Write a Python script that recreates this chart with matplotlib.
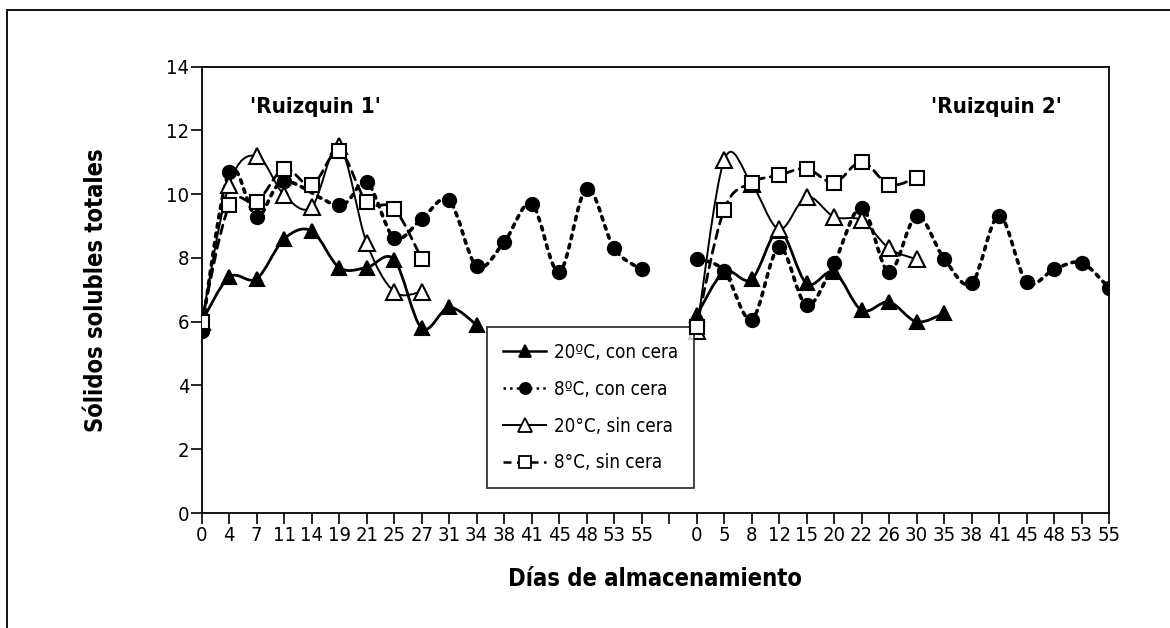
import matplotlib
matplotlib.use("Agg")
import matplotlib.pyplot as plt
from matplotlib.path import Path
from matplotlib.patches import PathPatch, Rectangle
from matplotlib.lines import Line2D
from matplotlib import font_manager

# ---------------- data ----------------
days_r1 = [0, 4, 7, 11, 14, 19, 21, 25, 27, 31, 34, 38, 41, 45, 48, 53, 55]
days_r2 = [0, 5, 8, 12, 15, 20, 22, 26, 30, 35, 38, 41, 45, 48, 53, 55]

# 'Ruizquin 1'
c20_r1_days = [0, 4, 7, 11, 14, 19, 21, 25, 27, 31, 34]
c20_r1_vals = [6.0, 7.4, 7.35, 8.6, 8.85, 7.7, 7.7, 7.95, 5.8, 6.45, 5.9]
c8_r1_days = [0, 4, 7, 11, 19, 21, 25, 27, 31, 34, 38, 41, 45, 48, 53, 55]
c8_r1_vals = [5.7, 10.7, 9.3, 10.4, 9.65, 10.37, 8.63, 9.22, 9.81, 7.74, 8.5, 9.7, 7.56, 10.17, 8.3, 7.64]
s20_r1_days = [0, 4, 7, 11, 14, 19, 21, 25, 27]
s20_r1_vals = [6.0, 10.3, 11.2, 9.97, 9.6, 11.5, 8.47, 6.94, 6.94]
s8_r1_days = [0, 4, 7, 11, 14, 19, 21, 25, 27]
s8_r1_vals = [6.0, 9.65, 9.76, 10.8, 10.28, 11.35, 9.76, 9.55, 7.98]

# 'Ruizquin 2'
c20_r2_days = [0, 5, 8, 12, 15, 20, 22, 26, 30, 35]
c20_r2_vals = [6.2, 7.56, 7.33, 8.85, 7.2, 7.56, 6.36, 6.62, 6.0, 6.26]
c8_r2_days = [0, 5, 8, 12, 15, 20, 22, 26, 30, 35, 38, 41, 45, 48, 53, 55]
c8_r2_vals = [7.98, 7.6, 6.07, 8.33, 6.52, 7.85, 9.58, 7.56, 9.32, 7.98, 7.2, 9.32, 7.25, 7.64, 7.85, 7.06]
s20_r2_days = [0, 5, 8, 12, 15, 20, 22, 26, 30]
s20_r2_vals = [5.7, 11.07, 10.33, 8.9, 9.92, 9.29, 9.18, 8.3, 7.96]
s8_r2_days = [0, 5, 8, 12, 15, 20, 22, 26, 30]
s8_r2_vals = [5.85, 9.52, 10.36, 10.6, 10.8, 10.36, 11.02, 10.3, 10.51]

series_labels = ["20ºC, con cera", "8ºC, con cera", "20°C, sin cera", "8°C, sin cera"]
group_titles = ["'Ruizquin 1'", "'Ruizquin 2'"]
xlabel = "Días de almacenamiento"
ylabel = "Sólidos solubles totales"

# ---------------- fonts ----------------
avail = {f.name for f in font_manager.fontManager.ttflist}
if "Liberation Sans Narrow" in avail:
    plt.rcParams["font.family"] = ["Liberation Sans Narrow", "DejaVu Sans"]
else:
    plt.rcParams["font.family"] = ["DejaVu Sans"]
    plt.rcParams["font.stretch"] = "condensed"

# ---------------- positions ----------------
gap = 2
pos_r1 = {d: i for i, d in enumerate(days_r1)}
pos_r2 = {d: i + len(days_r1) + gap - 1 for i, d in enumerate(days_r2)}


def smooth_path(xs, ys, t=1/6.0):
    n = len(xs)
    verts = [(xs[0], ys[0])]
    codes = [Path.MOVETO]
    for i in range(n - 1):
        x0, y0 = (xs[i - 1], ys[i - 1]) if i > 0 else (xs[i], ys[i])
        x1, y1 = xs[i], ys[i]
        x2, y2 = xs[i + 1], ys[i + 1]
        x3, y3 = (xs[i + 2], ys[i + 2]) if i + 2 < n else (x2, y2)
        c1 = (x1 + (x2 - x0) * t, y1 + (y2 - y0) * t)
        c2 = (x2 - (x3 - x1) * t, y2 - (y3 - y1) * t)
        verts += [c1, c2, (x2, y2)]
        codes += [Path.CURVE4] * 3
    return Path(verts, codes)


fig = plt.figure(figsize=(11.7, 6.28), dpi=100)
ax = fig.add_axes([0.1724, 0.1831, 0.7755, 0.7107])

# outer frame (open to right and bottom)
fig.add_artist(Rectangle((7 / 1170, -0.1), 1.2, 1.1 - 10 / 628, transform=fig.transFigure,
                         fill=False, edgecolor="black", linewidth=1.3))

styles = [
    dict(ls="-", lw=2.0, marker="^", mfc="black", ms=10),
    dict(ls=":", lw=2.6, marker="o", mfc="black", ms=9.5),
    dict(ls="-", lw=1.4, marker="^", mfc="white", ms=12),
    dict(ls=(0, (3.2, 2.2)), lw=2.0, marker="s", mfc="white", ms=10.5),
]

groups = [
    (pos_r1, [(c20_r1_days, c20_r1_vals), (c8_r1_days, c8_r1_vals),
              (s20_r1_days, s20_r1_vals), (s8_r1_days, s8_r1_vals)]),
    (pos_r2, [(c20_r2_days, c20_r2_vals), (c8_r2_days, c8_r2_vals),
              (s20_r2_days, s20_r2_vals), (s8_r2_days, s8_r2_vals)]),
]

for pos, sers in groups:
    for k, (dd, vv) in enumerate(sers):
        st = styles[k]
        xs = [pos[d] for d in dd]
        ax.add_patch(PathPatch(smooth_path(xs, vv), fill=False, edgecolor="black",
                               linewidth=st["lw"], linestyle=st["ls"], zorder=2,
                               capstyle="round"))
        ax.plot(xs, vv, linestyle="none", marker=st["marker"], markersize=st["ms"],
                markerfacecolor=st["mfc"], markeredgecolor="black", markeredgewidth=1.5,
                zorder=3 + k)

n_total = len(days_r1) + gap - 1 + len(days_r2)
ax.set_xlim(0, n_total - 1)
ax.set_ylim(0, 14)
ticks = list(range(n_total))
labels = [str(d) for d in days_r1] + [""] * (gap - 1) + [str(d) for d in days_r2]
ax.set_xticks(ticks)
ax.set_xticklabels(labels)
ax.set_yticks(range(0, 15, 2))
ax.tick_params(axis="both", direction="out", length=8, width=1.2, labelsize=14.5, colors="black")
ax.tick_params(axis="x", pad=1)
ax.tick_params(axis="y", pad=1)
for sp in ax.spines.values():
    sp.set_linewidth(1.3)

ax.set_xlabel(xlabel, fontsize=17, fontweight="bold", labelpad=16)
ax.set_ylabel(ylabel, fontsize=17, fontweight="bold", labelpad=42)

ax.text(4.15, 12.75, group_titles[0], ha="center", va="center", fontsize=16, fontweight="bold")
ax.text(28.9, 12.75, group_titles[1], ha="center", va="center", fontsize=16, fontweight="bold")

handles = []
for k, st in enumerate(styles):
    handles.append(Line2D([], [], color="black", linestyle=st["ls"], linewidth=min(st["lw"], 1.8),
                          marker=st["marker"], markersize=st["ms"] * 0.85,
                          markerfacecolor=st["mfc"], markeredgecolor="black", markeredgewidth=1.3))
leg = ax.legend(handles, series_labels, loc="upper left", bbox_to_anchor=(0.3145, 0.4168),
                fontsize=13.5, frameon=True, fancybox=False, handlelength=2.3,
                labelspacing=0.95, borderpad=0.85, handletextpad=0.4, borderaxespad=0)
leg.get_frame().set_edgecolor("black")
leg.get_frame().set_linewidth(1.3)

fig.savefig("out.png", dpi=100)
